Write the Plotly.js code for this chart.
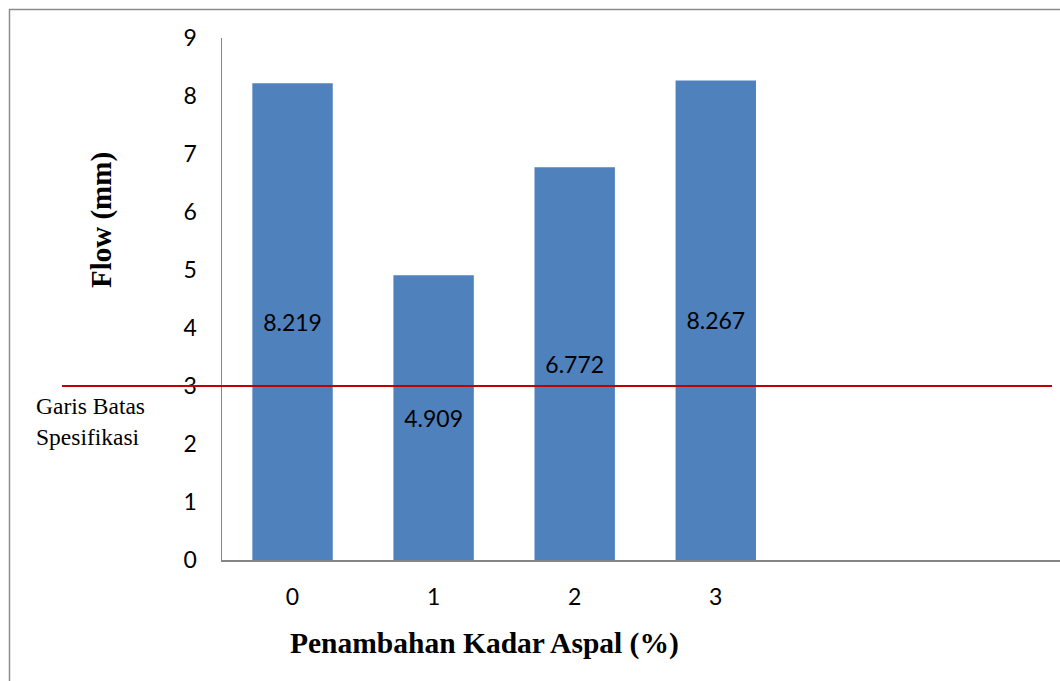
<!DOCTYPE html>
<html>
<head>
<meta charset="utf-8">
<script src="https://cdn.plot.ly/plotly-3.0.1.min.js"></script>
<style>html,body{margin:0;padding:0;background:#fff;}#chart{width:1060px;height:681px;}</style>
</head>
<body>
<div id="chart"></div>
<script>
var categories = [0, 1, 2, 3];
var flowValues = [8.219, 4.909, 6.772, 8.267];
var flowLabels = ["8.219", "4.909", "6.772", "8.267"];
var specLimit = 3;
var yTicks = [0, 1, 2, 3, 4, 5, 6, 7, 8, 9];
var xTickLabels = ["0", "1", "2", "3"];

var W = 1060, H = 681;
var L = 222, R = 0, T = 38, B = 121;
var pw = W - L - R, ph = H - T - B;
function px(xp) { return (xp - L) / pw; }
function py(yp) { return (H - B - yp) / ph; }

var tickFont = {family: "Lato, 'Open Sans', sans-serif", size: 23, color: "#000"};

var trace = {
  type: "bar",
  x: categories,
  y: flowValues,
  text: flowLabels,
  textposition: "inside",
  insidetextanchor: "middle",
  textangle: 0,
  textfont: tickFont,
  marker: {color: "#4F81BD"},
  width: 0.57,
  hoverinfo: "none",
  cliponaxis: false
};

var layout = {
  width: W, height: H,
  margin: {l: L, r: R, t: T, b: B, pad: 0},
  paper_bgcolor: "#fff", plot_bgcolor: "#fff",
  showlegend: false,
  xaxis: {
    type: "linear",
    range: [-0.5, 5.44],
    tickvals: categories,
    ticktext: xTickLabels,
    showgrid: false, zeroline: false,
    showline: true, linecolor: "#868686", linewidth: 2,
    ticks: "", ticklabelstandoff: 15,
    tickfont: tickFont
  },
  yaxis: {
    range: [0, 9],
    tickvals: yTicks,
    showgrid: false, zeroline: false,
    showline: true, linecolor: "#868686", linewidth: 1.5,
    ticks: "", ticklabelstandoff: 19,
    tickfont: tickFont
  },
  shapes: [
    {type: "rect", xref: "paper", yref: "paper",
     x0: px(9.5), x1: px(1075), y0: py(700), y1: py(9.5),
     line: {color: "#8c8c8c", width: 1.5}, fillcolor: "rgba(0,0,0,0)", layer: "below"},
    {type: "line", xref: "paper", yref: "y",
     x0: px(62), x1: px(1052), y0: specLimit, y1: specLimit,
     line: {color: "#C00000", width: 2}, layer: "above"}
  ],
  annotations: [
    {xref: "paper", yref: "paper", x: px(101), y: py(220), text: "<b>Flow (mm)</b>",
     textangle: -90, showarrow: false, xanchor: "center", yanchor: "middle",
     font: {family: "'Liberation Serif', 'Times New Roman', serif", size: 29, color: "#000"}},
    {xref: "paper", yref: "paper", x: px(484), y: py(643), text: "<b>Penambahan Kadar Aspal (%)</b>",
     showarrow: false, xanchor: "center", yanchor: "middle",
     font: {family: "'Liberation Serif', 'Times New Roman', serif", size: 29.5, color: "#000"}},
    {xref: "paper", yref: "paper", x: px(34), y: py(421), text: "Garis Batas<br>Spesifikasi",
     showarrow: false, xanchor: "left", yanchor: "middle", align: "left",
     font: {family: "'Liberation Serif', 'Times New Roman', serif", size: 23.5, color: "#000"}}
  ]
};

Plotly.newPlot("chart", [trace], layout, {displayModeBar: false, staticPlot: true});
</script>
</body>
</html>
